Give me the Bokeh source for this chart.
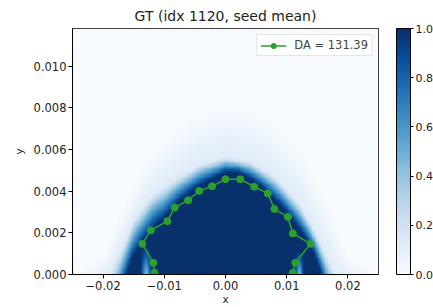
import numpy as np
from bokeh.plotting import figure
from bokeh.models import (LinearColorMapper, ColorBar, FixedTicker, Legend, LegendItem,
                          Range1d, PrintfTickFormatter)
from bokeh.palettes import Blues256
from bokeh.embed import file_html
from bokeh.resources import INLINE

# ---- data ----
title_text = "GT (idx 1120, seed mean)"
legend_label = "DA = 131.39"
x_limits = [-0.025, 0.025]
y_limits = [0.0, 0.0118]
x_ticks = [-0.02, -0.01, 0.0, 0.01, 0.02]
x_tick_labels = ["\u22120.02", "\u22120.01", "0.00", "0.01", "0.02"]
y_ticks = [0.0, 0.002, 0.004, 0.006, 0.008, 0.010]
y_tick_labels = ["0.000", "0.002", "0.004", "0.006", "0.008", "0.010"]
cbar_ticks = [0.0, 0.2, 0.4, 0.6, 0.8, 1.0]

# green boundary (x, y)
contour_x = [-0.0116, -0.0118, -0.0136, -0.0122, -0.0095, -0.0083, -0.0061, -0.0043,
             -0.0022, 0.0000, 0.0024, 0.0047, 0.0069, 0.0080, 0.0102, 0.0110,
             0.0139, 0.0114, 0.0110]
contour_y = [0.00008, 0.00056, 0.00147, 0.00212, 0.00256, 0.00321, 0.00356, 0.00401,
             0.00423, 0.00457, 0.00457, 0.00421, 0.00389, 0.00314, 0.00276, 0.00197,
             0.00147, 0.00056, 0.00008]

# heat-map envelopes
core_x = [-0.025, -0.019, -0.0165, -0.0155, -0.014, -0.012, -0.010, -0.008, -0.006,
          -0.004, -0.002, 0.0, 0.002, 0.004, 0.006, 0.008, 0.010, 0.012, 0.014,
          0.015, 0.016, 0.018, 0.025]
core_top = [-0.004, -0.003, -0.0003, 0.0006, 0.0014, 0.0022, 0.0027, 0.0034, 0.0039,
            0.0043, 0.0046, 0.0049, 0.0049, 0.0046, 0.0042, 0.0036, 0.0030, 0.0022,
            0.0013, 0.0006, -0.0003, -0.003, -0.004]
halo_x = [-0.025, -0.019, -0.017, -0.015, -0.012, -0.008, -0.004, 0.0, 0.004, 0.008,
          0.012, 0.014, 0.0165, 0.018, 0.025]
halo_top = [-0.001, 0.0, 0.0012, 0.0026, 0.0038, 0.0046, 0.0053, 0.0056, 0.0054,
            0.0047, 0.0034, 0.0024, 0.0009, 0.0, -0.001]
plume_x = [-0.025, -0.020, -0.017, -0.012, -0.006, 0.0, 0.006, 0.012, 0.017, 0.020, 0.025]
plume_top = [0.0, 0.0008, 0.0030, 0.0058, 0.0075, 0.0082, 0.0078, 0.0060, 0.0032,
             0.0008, 0.0]
gap_x = [-0.0130, 0.0121]
gap_halfwidth = [0.0009, 0.0007]
gap_top = [0.0013, 0.0011]

# ---- build the image from the envelopes ----
nx, ny = 400, 200
gx = np.linspace(x_limits[0], x_limits[1], nx)
gy = np.linspace(y_limits[0], y_limits[1], ny)
X, Y = np.meshgrid(gx, gy)
core = np.interp(gx, core_x, core_top)[None, :]
halo = np.interp(gx, halo_x, halo_top)[None, :]
plume = np.interp(gx, plume_x, plume_top)[None, :]
t1 = np.clip((Y - core) / np.maximum(halo - core, 1e-9), 0, 1)
t2 = np.clip((Y - halo) / np.maximum(plume - halo, 1e-9), 0, 1)
val = np.where(Y <= core, 1.0,
               np.where(Y <= halo, 1.0 - 0.88 * t1,
                        np.where(Y <= plume, 0.12 * (1 - t2), 0.0)))
for cx, hw, gt in zip(gap_x, gap_halfwidth, gap_top):
    bump = np.clip(1 - np.abs(X - cx) / hw, 0, 1) * np.clip(1 - Y / gt, 0, 1)
    val = val * (1 - 0.6 * bump)

palette = list(reversed(Blues256))
mapper = LinearColorMapper(palette=palette, low=0.0, high=1.0)

p = figure(output_backend="svg", toolbar_location=None,
           frame_width=306, frame_height=246,
           x_range=Range1d(*x_limits), y_range=Range1d(*y_limits),
           min_border_left=72, min_border_top=0, min_border_right=55, min_border_bottom=0,
           title=title_text)
p.image(image=[val], x=x_limits[0], y=y_limits[0], dw=x_limits[1] - x_limits[0],
        dh=y_limits[1] - y_limits[0], color_mapper=mapper)

line_r = p.line(contour_x, contour_y, line_color="#2ca02c", line_width=1.5)
pts_r = p.scatter(contour_x, contour_y, size=7, fill_color="#2ca02c", line_color="#2ca02c")

legend = Legend(items=[LegendItem(label=legend_label, renderers=[line_r, pts_r])],
                location="top_right", margin=6, padding=3, label_height=13, glyph_height=13,
                glyph_width=26, label_standoff=8, spacing=0,
                label_text_font="DejaVu Sans", label_text_font_size="11.5px",
                border_line_color="#cccccc", background_fill_alpha=0.85)
p.add_layout(legend)

p.title.align = "center"
p.title.text_font = "DejaVu Sans"
p.title.text_font_size = "14px"
p.title.text_font_style = "normal"
p.title.text_color = "#222222"

p.grid.visible = False
p.outline_line_color = "black"
for ax in (p.xaxis, p.yaxis):
    ax.major_label_text_font = "DejaVu Sans"
    ax.major_label_text_font_size = "11.5px"
    ax.major_label_text_color = "#222222"
    ax.axis_label_text_font = "DejaVu Sans"
    ax.axis_label_text_font_size = "10.5px"
    ax.axis_label_text_font_style = "normal"
    ax.axis_label_text_color = "#222222"
    ax.major_tick_in = 0
    ax.major_tick_out = 4
    ax.minor_tick_line_color = None
    ax.axis_line_color = "black"
    ax.major_tick_line_color = "black"
    ax.axis_label_standoff = 0
    ax.major_label_standoff = 2

p.xaxis.ticker = FixedTicker(ticks=x_ticks)
p.xaxis.major_label_overrides = dict(zip(x_ticks, x_tick_labels))
p.yaxis.ticker = FixedTicker(ticks=y_ticks)
p.yaxis.major_label_overrides = dict(zip(y_ticks, y_tick_labels))
p.xaxis.axis_label = "x"
p.yaxis.axis_label = "y"
p.yaxis.axis_label_standoff = 6

cbar = ColorBar(color_mapper=mapper, ticker=FixedTicker(ticks=cbar_ticks),
                formatter=PrintfTickFormatter(format="%.1f"),
                width=14, height=246, padding=0, location=(324, 0),
                major_tick_in=0, major_tick_out=3, major_tick_line_color="black",
                minor_tick_line_color=None, bar_line_color="black",
                label_standoff=2, major_label_text_font="DejaVu Sans",
                major_label_text_font_size="11px", major_label_text_color="#222222",
                border_line_color=None, background_fill_alpha=0)
p.add_layout(cbar)

open("out.html", "w").write(file_html(p, INLINE))
